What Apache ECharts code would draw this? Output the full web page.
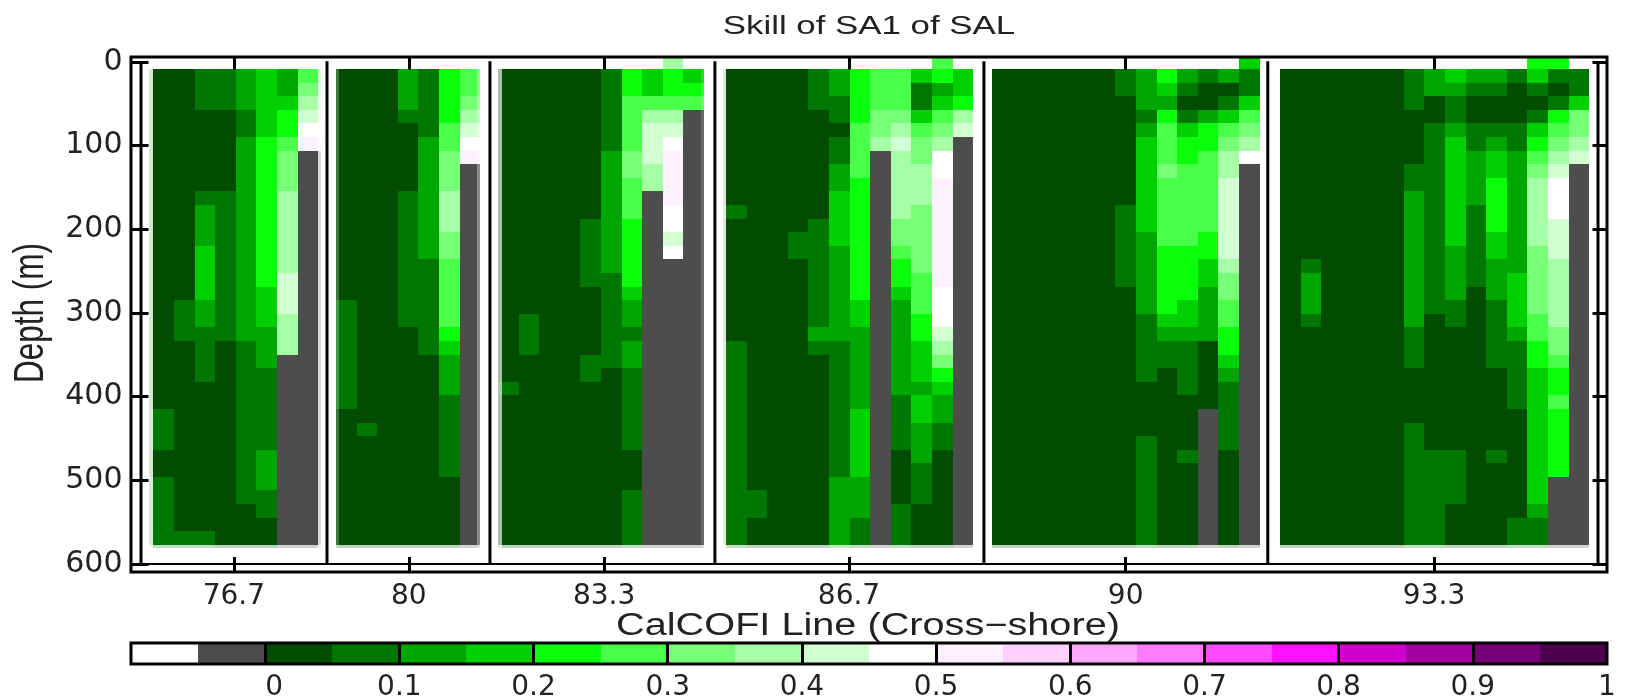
<!DOCTYPE html>
<html><head><meta charset="utf-8">
<style>html,body{margin:0;padding:0;background:#fff}#c{width:1639px;height:698px}</style>
<script src="https://cdn.jsdelivr.net/npm/echarts@6/dist/echarts.min.js"></script>
</head><body><div id="c"></div>
<script>
const G = -1; // no-data (grey) bin
// Each column: [lastRow, bin, lastRow, bin, ...], rows 1..35 top to bottom, row 0 = sliver above the first level
const line767 = [
 [25,0,28,1,30,0,35,1],
 [17,0,20,1,34,0,35,1],
 [3,1,9,0,10,1,13,2,17,3,19,2,23,1,34,0,35,1],
 [3,1,9,0,20,1,35,0],
 [3,2,5,1,20,2,32,1,35,0],
 [5,3,16,4,19,3,22,2,28,1,31,2,33,1,35,0],
 [2,2,3,3,5,4,6,5,9,6,15,7,18,8,21,7,35,G],
 [1,5,2,6,3,7,4,8,5,9,6,10,35,G]
];
const line80 = [
 [17,0,25,1,35,0],
 [26,0,27,1,35,0],
 [35,0],
 [3,2,4,1,9,0,19,1,35,0],
 [5,1,14,2,21,1,35,0],
 [4,4,6,5,9,6,12,7,14,6,19,5,20,4,21,3,24,2,30,1,35,0],
 [2,5,3,6,4,7,5,8,6,9,7,10,35,G]
];
const line833 = [
 [23,0,24,1,35,0],
 [18,0,21,1,35,0],
 [35,0],
 [35,0],
 [11,0,16,1,21,0,23,1,35,0],
 [6,1,15,2,22,1,35,0],
 [2,4,6,5,8,6,11,5,16,4,17,3,19,2,20,1,22,2,28,1,31,0,35,1],
 [2,3,3,5,4,7,7,8,9,7,35,G],
 [0,7,2,4,3,5,4,7,5,8,6,9,10,10,12,9,13,8,14,9,35,G],
 [1,3,2,4,3,5,35,G]
];
const line867 = [
 [10,0,11,1,20,0,35,1],
 [31,0,33,1,35,0],
 [35,0],
 [12,0,14,1,35,0],
 [3,1,11,0,19,1,20,2,21,1,35,0],
 [2,2,4,1,5,0,7,1,9,2,13,3,20,2,30,1,35,2],
 [4,4,8,5,17,4,19,3,25,2,30,3,33,2,35,1],
 [3,5,5,6,6,7,35,G],
 [3,5,4,6,5,7,6,8,11,7,13,6,14,5,16,4,17,3,24,2,28,1,32,0,35,1],
 [1,3,3,1,4,3,5,5,7,6,10,7,15,6,18,5,20,4,23,3,24,2,26,3,29,2,32,1,35,0],
 [0,5,1,4,2,2,3,3,4,5,5,6,6,7,8,9,16,10,19,9,20,8,21,7,22,6,23,4,24,3,26,2,28,1,35,0],
 [2,3,3,4,4,7,5,8,35,G]
];
const line90 = [
 [35,0],[35,0],[35,0],[35,0],[35,0],[35,0],
 [2,1,10,0,16,1,35,0],
 [3,2,4,1,5,2,12,3,18,2,23,1,27,0,35,1],
 [1,4,2,3,3,2,4,4,7,5,8,6,13,5,18,4,19,3,20,2,22,1,35,0],
 [1,2,2,1,3,0,4,1,5,3,7,4,13,5,17,4,19,3,20,2,24,1,28,0,29,1,35,0],
 [1,1,3,0,4,2,6,4,12,5,14,4,16,3,20,2,25,0,35,G],
 [1,2,2,0,3,1,4,3,5,5,6,6,8,7,14,8,15,7,17,6,19,5,21,4,22,3,23,2,28,1,35,0],
 [0,3,2,1,3,3,4,5,5,6,6,7,7,9,35,G]
];
const line933 = [
 [35,0],
 [14,0,15,1,18,2,19,1,35,0],
 [35,0],[35,0],[35,0],[35,0],
 [3,1,7,0,9,1,19,2,22,1,26,0,35,1],
 [2,2,4,0,18,1,28,0,35,1],
 [1,3,2,2,4,1,5,2,13,3,17,2,19,1,28,0,32,1,35,0],
 [1,2,2,1,4,0,6,1,10,2,16,1,35,0],
 [1,2,2,1,4,0,5,1,6,2,8,3,12,4,14,3,17,2,22,1,28,0,29,1,35,0],
 [1,1,4,0,6,1,15,2,19,3,20,2,25,1,33,0,35,1],
 [0,4,1,3,2,1,3,0,4,1,5,3,6,4,7,5,8,6,13,7,18,6,20,5,22,4,32,3,33,2,35,1],
 [0,4,1,1,2,0,3,1,4,4,5,5,6,6,7,7,8,8,11,9,14,8,19,7,21,6,22,5,24,4,25,5,30,4,35,G],
 [2,1,3,3,5,6,6,7,7,8,35,G]
];
const lineNames = ['76.7','80','83.3','86.7','90','93.3'];
const lineColumns = [line767,line80,line833,line867,line90,line933];
const panelStart = [0.6,9.47,17.33,28.4,41.3,55.3];   // first column of each line on the cross-shore axis
const lineTick = [4.51,13.0,22.48,34.37,47.8,62.77];
const lineSeparators = [9.03,16.94,27.86,40.92,54.7];
const crossShoreMax = 70.73;
const colorbarEdges = [-0.1,-0.05,0,0.05,0.1,0.15,0.2,0.25,0.3,0.35,0.4,0.45,0.5,0.55,0.6,0.65,0.7,0.75,0.8,0.85,0.9,0.95,1];
const colorbarColors = ['#ffffff','#4d4d4d','#004d00','#007700','#00a600','#00d000','#0aff0a','#4aff4a','#78ff78','#a6ffa6','#d2ffd2','#ffffff','#fff0ff','#ffd0ff','#ffa6ff','#ff7aff','#ff4aff','#ff10ff','#d000d0','#a000a0','#780078','#4d004d'];
const colorbarTicks = [0,0.1,0.2,0.3,0.4,0.5,0.6,0.7,0.8,0.9,1];
// blurred panel edges: [outside-left, left wash, left fade, outside-right, right wash, right fade]
const panelEdges = [
 [0.2,0.2,0.85,0.12,0.12,0.8],
 [0,0.15,0.25,0,0.15,0.35],
 [0,0.2,0.65,0,0.15,0.15],
 [0.15,0.15,0.88,0,0,0],
 [0,0,0,0,0,0],
 [0,0,0,0,0,0]
];
const firstRowDepth = 8.4, rowStep = 16.25, lastRow = 35, skirtDepth = 4;

function rowTop(r){ return r === 0 ? -6 : firstRowDepth + (r-1)*rowStep; }
function skillOfBin(b){ return b === G ? -0.025 : (b+0.5)*0.05; }
function colorOf(v){
  for (let i=0;i<colorbarColors.length;i++) if (v>=colorbarEdges[i] && v<colorbarEdges[i+1]) return colorbarColors[i];
  return '#fff';
}
const cells = [], washes = [];
lineColumns.forEach((cols,p)=>{
  const e = panelEdges[p], x0 = panelStart[p], n = cols.length;
  cols.forEach((runs,c)=>{
    let r = runs[0]===0 ? 0 : 1;
    for (let i=0;i<runs.length;i+=2){
      for (; r<=runs[i]; r++){
        const l = x0+c-(c===0?e[0]:0), rr = x0+c+1+(c===n-1?e[3]:0);
        const bot = r===lastRow ? rowTop(r)+rowStep+skirtDepth : rowTop(r)+rowStep;
        cells.push([l,rr,rowTop(r),bot,skillOfBin(runs[i+1])]);
      }
    }
  });
  const topD = rowTop(1), botD = rowTop(lastRow)+rowStep;
  if (e[1]) washes.push([x0-e[0],x0-e[0]+e[1],topD,botD+skirtDepth,e[2]]);
  if (e[4]) washes.push([x0+n+e[3]-e[4],x0+n+e[3],topD,botD+skirtDepth,e[5]]);
  washes.push([x0-e[0],x0+n+e[3],botD,botD+skirtDepth,0.75]);
});
const rules = lineSeparators.concat([0,crossShoreMax]).map(x=>[x,-1,x,600,3]);
rules.push([-0.5,600,crossShoreMax+0.45,600,2]);

function rectItem(params,api){
  const a = api.coord([api.value(0),api.value(2)]), b = api.coord([api.value(1),api.value(3)]);
  const x=Math.round(a[0]), y=Math.round(a[1]);
  return {type:'rect',shape:{x,y,width:Math.round(b[0])-x,height:Math.round(b[1])-y},
    style:{fill:colorOf(api.value(4))},silent:true};
}
const chart = echarts.init(document.getElementById('c'),null,{renderer:'canvas'});
const labelFont = 'DejaVu Sans';
const hidden = {show:false};
const noLine = {show:false,onZero:false};
chart.setOption({
  animation:false,
  backgroundColor:'#fff',
  grid:[
    {left:141,top:62,width:1457,height:502,outerBoundsMode:'none'},
    {left:131,top:643,width:1476,height:21,outerBoundsMode:'none'}
  ],
  xAxis:[
    {gridIndex:0,type:'value',min:0,max:crossShoreMax,position:'bottom',offset:8,splitLine:hidden,axisLine:noLine,
     axisTick:{show:true,inside:true,length:15,lineStyle:{color:'#000',width:3},customValues:lineTick},
     axisLabel:{show:true,customValues:lineTick,formatter:(v)=>lineNames[lineTick.indexOf(v)],margin:11,fontFamily:labelFont,fontSize:28,color:'#222'}},
    {gridIndex:0,type:'value',min:0,max:crossShoreMax,position:'top',offset:5.5,splitLine:hidden,axisLine:noLine,
     axisTick:{show:true,inside:true,length:13,lineStyle:{color:'#000',width:3},customValues:lineTick},axisLabel:hidden},
    {gridIndex:1,type:'value',min:-0.1,max:1,position:'bottom',splitLine:hidden,axisLine:noLine,
     axisTick:{show:true,inside:true,length:21,lineStyle:{color:'#000',width:3},customValues:colorbarTicks.slice(0,10)},
     axisLabel:{show:true,customValues:colorbarTicks,formatter:(v)=>String(v),margin:10,fontFamily:labelFont,fontSize:28,color:'#222',hideOverlap:false,alignMinLabel:'left'}}
  ],
  yAxis:[
    {gridIndex:0,type:'value',inverse:true,min:0,max:600,interval:100,position:'left',offset:9.5,splitLine:hidden,axisLine:noLine,
     axisTick:{show:true,inside:true,length:17,lineStyle:{color:'#000',width:3}},
     axisLabel:{show:true,margin:9,fontFamily:labelFont,fontSize:30,color:'#222'}},
    {gridIndex:0,type:'value',inverse:true,min:0,max:600,interval:100,position:'right',offset:9.5,splitLine:hidden,axisLine:noLine,
     axisTick:{show:true,inside:true,length:15,lineStyle:{color:'#000',width:3}},axisLabel:hidden},
    {gridIndex:1,type:'value',min:0,max:1,show:false}
  ],
  graphic:[
    {type:'rect',z:5,silent:true,shape:{x:131,y:57,width:1476,height:515},style:{fill:'none',stroke:'#000',lineWidth:3}},
    {type:'rect',z:5,silent:true,shape:{x:131,y:643,width:1476,height:21},style:{fill:'none',stroke:'#000',lineWidth:3}},
    {type:'text',z:5,x:869,y:27,scaleX:1.34,silent:true,style:{text:'Skill of SA1 of SAL',x:0,y:0,align:'center',verticalAlign:'middle',font:'26px "Liberation Sans"',fill:'#222'}},
    {type:'text',z:5,x:868,y:626,scaleX:1.28,silent:true,style:{text:'CalCOFI Line (Cross\u2212shore)',x:0,y:0,align:'center',verticalAlign:'middle',font:'31px "Liberation Sans"',fill:'#222'}},
    {type:'text',z:5,x:31,y:313,rotation:Math.PI/2,scaleX:0.75,silent:true,style:{text:'Depth (m)',x:0,y:0,align:'center',verticalAlign:'middle',font:'42px "Liberation Sans"',fill:'#222'}}
  ],
  series:[
    {type:'custom',name:'skill',coordinateSystem:'cartesian2d',xAxisIndex:0,yAxisIndex:0,z:-3,clip:false,silent:true,
     data:cells,encode:{x:0,y:2},dimensions:['x0','x1','d0','d1','skill'],renderItem:rectItem},
    {type:'custom',name:'edges',coordinateSystem:'cartesian2d',xAxisIndex:0,yAxisIndex:0,z:-2,clip:false,silent:true,
     data:washes,encode:{x:0,y:2},renderItem(params,api){
       const a=api.coord([api.value(0),api.value(2)]),b=api.coord([api.value(1),api.value(3)]);
       const x=Math.round(a[0]),y=Math.round(a[1]);
       return {type:'rect',shape:{x,y,width:Math.round(b[0])-x,height:Math.round(b[1])-y},style:{fill:'#fff',opacity:api.value(4)},silent:true};
     }},
    {type:'custom',name:'rules',coordinateSystem:'cartesian2d',xAxisIndex:0,yAxisIndex:0,z:-1,clip:false,silent:true,
     data:rules,encode:{x:0,y:1},renderItem(params,api){
       const a=api.coord([api.value(0),api.value(1)]),b=api.coord([api.value(2),api.value(3)]);
       return {type:'line',shape:{x1:a[0],y1:a[1],x2:b[0],y2:b[1]},style:{stroke:'#000',lineWidth:api.value(4)},silent:true};
     }},
    {type:'custom',name:'colorbar',coordinateSystem:'cartesian2d',xAxisIndex:2,yAxisIndex:2,z:-3,clip:false,silent:true,
     data:colorbarColors.map((c,i)=>[colorbarEdges[i],colorbarEdges[i+1],0,1,(colorbarEdges[i]+colorbarEdges[i+1])/2]),
     encode:{x:0,y:2},renderItem:rectItem}
  ]
});
</script></body></html>
